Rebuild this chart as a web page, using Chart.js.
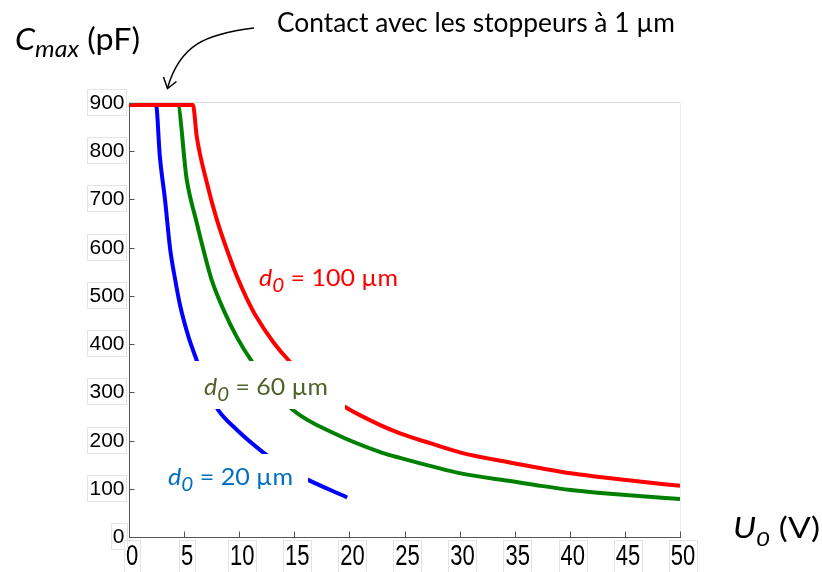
<!DOCTYPE html>
<html><head><meta charset="utf-8">
<script src="https://cdn.jsdelivr.net/npm/chart.js@4.4.0/dist/chart.umd.min.js"></script>
<style>html,body{margin:0;padding:0;background:#fff;}#wrap{width:822px;height:572px;position:relative;}</style>
</head><body><div id="wrap"><canvas id="c" width="822" height="572"></canvas></div>
<script>
// Tick labels
const xTicks = [0, 5, 10, 15, 20, 25, 30, 35, 40, 45, 50];
const yTicks = [0, 100, 200, 300, 400, 500, 600, 700, 800, 900];

// d0 = 100 µm
const u100 = [0, 5.8, 6.15, 7.06, 7.97, 9.18, 9.8, 10.7, 11.6, 13.1, 14.5, 17, 19.5, 22.8, 24.6, 27.4, 30.1, 34.9, 37.4, 40.1, 42.5, 45.1, 50];
const c100 = [896, 896, 830, 735, 658, 577, 540, 494, 455, 404, 366, 312, 271, 232, 215, 194, 175, 153, 142.5, 132, 125, 118, 106];
// d0 = 60 µm
const u60 = [0, 4.4, 5.24, 6.15, 6.76, 7.5, 8.6, 9.8, 11.15, 13, 14.9, 18.6, 22.8, 24.6, 30.1, 34.9, 37.4, 40.1, 42.5, 45.1, 50];
const c60 = [896, 896, 741, 651, 595, 533, 470, 414, 364, 310, 263, 215, 176, 164, 132, 115, 106, 97.5, 92, 87, 79];
// d0 = 20 µm
const u20 = [0, 2.45, 2.8, 3.27, 3.73, 4.18, 4.64, 5.4, 6.15, 7, 8.1, 9.8, 12.2, 14, 16.3, 19.8];
const c20 = [896, 896, 789, 699, 598, 535, 480, 415, 366, 310, 263, 222, 175, 145, 118, 82];

const pts = (xs, ys) => xs.map((x, i) => ({x: x, y: ys[i]}));

function rich(ctx, parts, x, y, targetW) {
  let w = 0;
  parts.forEach(p => { ctx.font = p.font; p.w = ctx.measureText(p.t).width; w += p.w; });
  const sx = targetW ? targetW / w : 1;
  ctx.save();
  ctx.translate(x, y);
  ctx.scale(sx, 1);
  ctx.textAlign = 'left';
  ctx.textBaseline = 'alphabetic';
  let cx = 0;
  parts.forEach(p => { ctx.font = p.font; ctx.fillText(p.t, cx, p.dy || 0); cx += p.w; });
  ctx.restore();
}

const deco = {
  id: 'deco',
  afterDatasetsDraw(chart) {
    const ctx = chart.ctx;
    ctx.save();
    // white label backgrounds (cut the curves)
    ctx.fillStyle = '#ffffff';
    ctx.fillRect(193, 361, 152, 48);
    ctx.fillRect(160, 454, 148, 46);
    // series labels
    ctx.fillStyle = '#ff0000';
    rich(ctx, [{t: 'd', font: 'italic 23px Lato'}, {t: '0', font: 'italic 19px Lato', dy: 6}, {t: ' = 100 µm', font: '23px Lato'}], 259, 286, 139);
    ctx.fillStyle = '#4f6228';
    rich(ctx, [{t: 'd', font: 'italic 23px Lato'}, {t: '0', font: 'italic 19px Lato', dy: 6}, {t: ' = 60 µm', font: '23px Lato'}], 204, 395, 124);
    ctx.fillStyle = '#0070c0';
    rich(ctx, [{t: 'd', font: 'italic 23px Lato'}, {t: '0', font: 'italic 19px Lato', dy: 6}, {t: ' = 20 µm', font: '23px Lato'}], 168, 485, 125);
    ctx.restore();
  },
  afterDraw(chart) {
    const ctx = chart.ctx, a = chart.chartArea;
    const xs = chart.scales.x, ys = chart.scales.y;
    ctx.save();
    // light frame top / right
    ctx.strokeStyle = '#d9d9d9'; ctx.lineWidth = 1;
    ctx.beginPath(); ctx.moveTo(a.left, a.top - 0.5); ctx.lineTo(a.right, a.top - 0.5); ctx.stroke();
    ctx.strokeStyle = '#ececec';
    ctx.beginPath(); ctx.moveTo(a.right + 0.5, a.top); ctx.lineTo(a.right + 0.5, a.bottom); ctx.stroke();
    // inner ticks
    ctx.strokeStyle = '#555'; ctx.lineWidth = 1;
    ys.ticks.forEach(t => {
      const py = Math.round(ys.getPixelForValue(t.value)) + 0.5;
      ctx.beginPath(); ctx.moveTo(a.left, py); ctx.lineTo(a.left + 5.5, py); ctx.stroke();
    });
    xs.ticks.forEach(t => {
      const px = Math.round(xs.getPixelForValue(t.value)) + 0.5;
      ctx.beginPath(); ctx.moveTo(px, a.bottom); ctx.lineTo(px, a.bottom - 5.5); ctx.stroke();
    });
    // tick labels with faint boxes
    ctx.fillStyle = '#000';
    ctx.font = '22px "Liberation Sans"';
    xs.ticks.forEach(t => {
      const s = String(t.value);
      const px = xs.getPixelForValue(t.value) + 3;
      const w = ctx.measureText(s).width;
      ctx.strokeStyle = '#e4e4e4';
      ctx.strokeRect(Math.round(px - w / 2 - 2) + 0.5, 540.5, Math.round(w + 4), 40);
      ctx.save(); ctx.translate(px, 565); ctx.scale(1, 1.35);
      ctx.textAlign = 'center'; ctx.fillText(s, 0, 0); ctx.restore();
    });
    ctx.font = '21px "Liberation Sans"';
    ys.ticks.forEach(t => {
      const s = String(t.value);
      const py = ys.getPixelForValue(t.value);
      const w = ctx.measureText(s).width;
      const rx = 124.5;
      ctx.strokeStyle = '#e4e4e4';
      ctx.strokeRect(Math.round(rx - w - 2) + 0.5, Math.round(py - 14) + 0.5, Math.round(w + 4), 26);
      ctx.save(); ctx.translate(rx, py + 6); ctx.scale(1, 0.95);
      ctx.textAlign = 'right'; ctx.fillText(s, 0, 0); ctx.restore();
    });
    // axis titles
    ctx.fillStyle = '#000';
    rich(ctx, [{t: 'C', font: 'italic 31px Lato'}, {t: 'max', font: 'italic 24px Lato', dy: 7}, {t: ' (pF)', font: '31px Lato'}], 15, 50, 125);
    rich(ctx, [{t: 'U', font: 'italic 28px Lato'}, {t: '0', font: 'italic 20px Lato', dy: 8}, {t: ' (V)', font: '28px Lato'}], 733, 538, 87);
    // annotation
    rich(ctx, [{t: 'Contact avec les stoppeurs à 1 µm', font: '26px Lato'}], 277, 32, 398);
    ctx.strokeStyle = '#000'; ctx.lineWidth = 1.5;
    ctx.beginPath();
    ctx.moveTo(254, 28);
    ctx.bezierCurveTo(205, 34, 180, 45, 167.5, 88);
    ctx.stroke();
    ctx.beginPath();
    ctx.moveTo(163.5, 77); ctx.lineTo(167.5, 88.5); ctx.lineTo(176.5, 81.5);
    ctx.stroke();
    ctx.restore();
  }
};

new Chart(document.getElementById('c'), {
  type: 'line',
  data: {
    datasets: [
      {label: 'd0 = 100 µm', data: pts(u100, c100), borderColor: '#ff0000', borderWidth: 4, pointRadius: 0, fill: false, cubicInterpolationMode: 'monotone'},
      {label: 'd0 = 60 µm', data: pts(u60, c60), borderColor: '#008000', borderWidth: 4, pointRadius: 0, fill: false, cubicInterpolationMode: 'monotone'},
      {label: 'd0 = 20 µm', data: pts(u20, c20), borderColor: '#0000ff', borderWidth: 4, pointRadius: 0, fill: false, cubicInterpolationMode: 'monotone'}
    ]
  },
  options: {
    responsive: false,
    animation: false,
    devicePixelRatio: 1,
    layout: {padding: {left: 0, top: 103, right: 142, bottom: 0}},
    plugins: {legend: {display: false}, tooltip: {enabled: false}},
    scales: {
      x: {
        type: 'linear', min: 0, max: 50,
        afterBuildTicks: s => { s.ticks = xTicks.map(v => ({value: v})); },
        afterFit: s => { s.height = 35; },
        ticks: {display: false},
        grid: {display: false},
        border: {display: true, color: '#555', width: 1}
      },
      y: {
        type: 'linear', min: 0, max: 900,
        afterBuildTicks: s => { s.ticks = yTicks.map(v => ({value: v})); },
        afterFit: s => { s.width = 129; },
        ticks: {display: false},
        grid: {display: false},
        border: {display: true, color: '#555', width: 1}
      }
    }
  },
  plugins: [deco]
});
</script>
</body></html>
